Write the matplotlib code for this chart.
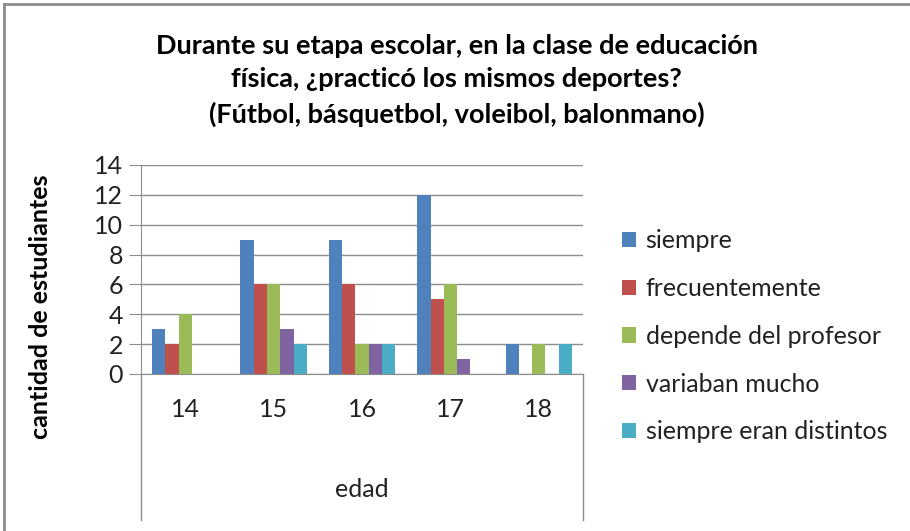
#! /usr/bin/python

"""
Bar chart: same sports in school physical education, by age.
"""

# LIBRARIES
import matplotlib as mpl
mpl.use("Agg")
import matplotlib.pyplot as plt
import numpy as np



# DATA
ages = ["14", "15", "16", "17", "18"]
series = ["siempre", "frecuentemente", "depende del profesor",
          "variaban mucho", "siempre eran distintos"]
siempre = [3, 9, 9, 12, 2]
frecuentemente = [2, 6, 6, 5, 0]
depende = [4, 6, 2, 6, 2]
variaban = [0, 3, 2, 1, 0]
distintos = [0, 2, 2, 0, 2]
yticks = [0, 2, 4, 6, 8, 10, 12, 14]

colors = ["#4F81BD", "#C0504D", "#9BBB59", "#8064A2", "#4BACC6"]



def main():

    mpl.rc("font", family = ["Lato", "DejaVu Sans"])
    fig = plt.figure(figsize = (9.1, 5.31), dpi = 100)
    ax = fig.add_axes([0.155, 0.2957, 0.4857, 0.3936])

    values = [siempre, frecuentemente, depende, variaban, distintos]
    x = np.arange(len(ages))
    w = 0.15

    # Bars
    for i, v in enumerate(values):
        ax.bar(x + (i - 2) * w, v, width = w, color = colors[i],
               label = series[i], zorder = 3)

    # Axes
    ax.set_xlim(-0.5, len(ages) - 0.5)
    ax.set_ylim(0, 14)
    ax.set_yticks(yticks)
    ax.set_yticklabels([str(t) for t in yticks], fontsize = 18,
                       color = "#222222")
    ax.yaxis.grid(True, color = "#8c8c8c", lw = 1)
    ax.set_axisbelow(True)
    ax.tick_params(axis = "y", length = 9, color = "#8c8c8c", pad = 4)
    ax.set_xticks([])
    for s in ["top", "right"]:
        ax.spines[s].set_visible(False)
    ax.spines["left"].set_color("#8c8c8c")
    ax.spines["bottom"].set_color("#8c8c8c")

    # Category axis box (ages + outer level "edad")
    for xa in [0, 1]:
        ax.plot([xa, xa], [0, -0.70], transform = ax.transAxes,
                color = "#8c8c8c", lw = 1, clip_on = False)
    for i, a in enumerate(ages):
        ax.text(i, -0.17, a, transform = ax.get_xaxis_transform(),
                ha = "center", va = "center", fontsize = 18,
                color = "#222222")
    ax.text(0.5, -0.555, "edad", transform = ax.transAxes, ha = "center",
            va = "center", fontsize = 18, color = "#222222")

    # Y label
    fig.text(0.044, 0.422, "cantidad de estudiantes", rotation = 90,
             ha = "center", va = "center", fontsize = 18, weight = "bold")

    # Title
    fig.text(0.502, 0.849,
             "Durante su etapa escolar, en la clase de educación\n"
             "física, ¿practicó los mismos deportes?\n"
             "(Fútbol, básquetbol, voleibol, balonmano)",
             ha = "center", va = "center", fontsize = 19.5, weight = "bold",
             linespacing = 1.47)

    # Legend
    ax.legend(loc = "center left", bbox_to_anchor = (1.088, 0.18),
              frameon = False, fontsize = 18, handlelength = 0.55,
              handleheight = 0.55, handletextpad = 0.4, labelspacing = 0.99,
              borderaxespad = 0, borderpad = 0, labelcolor = "#222222")

    # Chart frame (top and left edges only)
    fig.add_artist(plt.Line2D([0.004, 1.0], [0.993, 0.993],
                   transform = fig.transFigure, color = "#8c8c8c", lw = 2))
    fig.add_artist(plt.Line2D([0.004, 0.004], [0.0, 0.993],
                   transform = fig.transFigure, color = "#8c8c8c", lw = 2))

    fig.savefig("out.png", dpi = 100)



if __name__ == "__main__":
    main()
